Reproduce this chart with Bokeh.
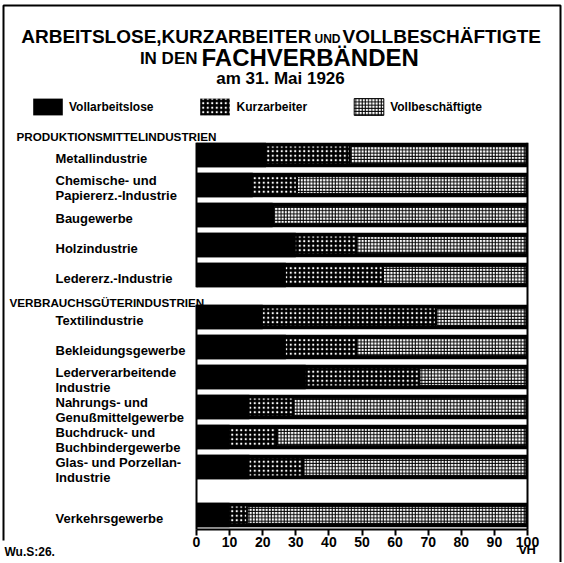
from bokeh.plotting import figure
from bokeh.models import Range1d, FixedTicker, Legend, LegendItem, ColumnDataSource
from bokeh.core.properties import value
from bokeh.embed import file_html
from bokeh.resources import INLINE

# ---------------- data ----------------
title_line1 = ["ARBEITSLOSE,KURZARBEITER", "UND", "VOLLBESCHÄFTIGTE"]
title_line2 = ["IN DEN", "FACHVERBÄNDEN"]
title_line3 = "am 31. Mai 1926"
series_names = ["Vollarbeitslose", "Kurzarbeiter", "Vollbeschäftigte"]
group_names = ["PRODUKTIONSMITTELINDUSTRIEN", "VERBRAUCHSGÜTERINDUSTRIEN"]
categories = [
    "Metallindustrie",
    "Chemische- und\nPapiererz.-Industrie",
    "Baugewerbe",
    "Holzindustrie",
    "Ledererz.-Industrie",
    "Textilindustrie",
    "Bekleidungsgewerbe",
    "Lederverarbeitende\nIndustrie",
    "Nahrungs- und\nGenußmittelgewerbe",
    "Buchdruck- und\nBuchbindergewerbe",
    "Glas- und Porzellan-\nIndustrie",
    "Verkehrsgewerbe",
]
category_group = [0, 0, 0, 0, 0, 1, 1, 1, 1, 1, 1, 2]
vollarbeitslose = [21, 17, 23, 30, 27, 20, 27, 33, 16, 10, 16, 10]
kurzarbeiter = [25, 13, 0, 18, 29, 52, 21, 34, 13, 14, 16, 5]
vollbeschaeftigte = [54, 70, 77, 52, 44, 28, 52, 33, 71, 76, 68, 85]
tick_values = [0, 10, 20, 30, 40, 50, 60, 70, 80, 90, 100]
axis_unit = "vH"
source_note = "Wu.S:26."

# ---------------- layout ----------------
FONT = "Liberation Sans"
W, H = 563, 562
BASE_PX = 530
X0_PX, X100_PX = 196, 527    # page px of 0 and 100 %
PX_PER_UNIT = (X100_PX - X0_PX) / 100.0
ROW0_PX, PITCH = 154.5, 30.0


def fx(px):
    return (px - X0_PX) / PX_PER_UNIT


def fy(py):
    return (py - ROW0_PX) / PITCH


GAPS = {1: 0.4, 2: 0.6}
slots = []
s = 0.0
for i, g in enumerate(category_group):
    if i > 0:
        s += 1.0
        if g != category_group[i - 1]:
            s += GAPS[g]
    slots.append(s)

BAR_H = 0.82
PAT_H = 0.56
INSET = 0.5

k_left = list(vollarbeitslose)
k_right = [a + k for a, k in zip(vollarbeitslose, kurzarbeiter)]
total = [a + k + v for a, k, v in zip(vollarbeitslose, kurzarbeiter, vollbeschaeftigte)]
v_left = [r + INSET for r in k_right]
v_right = [t - INSET for t in total]

src = ColumnDataSource(dict(y=slots, va=vollarbeitslose, k_left=k_left, k_right=k_right,
                            v_left=v_left, v_right=v_right, total=total, label=categories))

p = figure(width=W, height=H, output_backend="svg", toolbar_location=None, title=None,
           x_range=Range1d(fx(0), fx(W)), y_range=Range1d(fy(H), fy(0)),
           y_axis_location=None, min_border=0, outline_line_color=None,
           background_fill_color="white", border_fill_color="white")
p.grid.visible = False

# bars
p.hbar(y="y", left=0, right="total", height=BAR_H, source=src, fill_color="black", line_color=None)
r_va = p.hbar(y="y", left=0, right="va", height=BAR_H, source=src, fill_color="black", line_color=None)
r_k = p.hbar(y="y", left="k_left", right="k_right", height=PAT_H, source=src,
             fill_color="black", line_color=None, hatch_pattern="dot", hatch_color="white",
             hatch_scale=4.5, hatch_weight=1.5)
r_v = p.hbar(y="y", left="v_left", right="v_right", height=PAT_H, source=src,
             fill_color="white", line_color="black", line_width=1, hatch_pattern="cross",
             hatch_color="black", hatch_scale=3.2, hatch_weight=1)

# frame lines of the bar block
lo, hi = tick_values[0], tick_values[-1]
top1 = slots[0] - BAR_H / 2
bot1 = slots[4] + BAR_H / 2
top2 = slots[5] - BAR_H / 2
base = fy(BASE_PX - 1)
p.segment(x0=[lo, lo, hi], y0=[top1, top2, top1], x1=[lo, lo, hi], y1=[bot1, base, base],
          line_color="black", line_width=2)
p.segment(x0=[lo], y0=[base], x1=[hi], y1=[base], line_color="black", line_width=2)

# outer border
p.line(x=[fx(3), fx(3), fx(560), fx(560)], y=[fy(540), fy(5), fy(5), fy(H)],
       line_color="black", line_width=2)

# category labels
p.text(x=fx(55), y="y", text="label", source=src, text_baseline="middle", text_align="left",
       text_font=value(FONT), text_font_size="13px", text_font_style="bold",
       text_line_height=1.0, y_offset=3, text_color="black")

# group headers
p.text(x=[fx(16), fx(9)], y=[fy(136), fy(302)], text=group_names, text_baseline="middle",
       text_align="left", text_font=value(FONT), text_font_size="11.7px", text_font_style="bold",
       text_color="black")

# title
TB = dict(text_baseline="middle", text_font=value(FONT), text_font_style="bold", text_color="black")
p.text(x=[fx(311)], y=[fy(36)], text=[title_line1[0]], text_align="right", text_font_size="19px", **TB)
p.text(x=[fx(314)], y=[fy(38.5)], text=[title_line1[1]], text_align="left", text_font_size="12px", **TB)
p.text(x=[fx(342)], y=[fy(36)], text=[title_line1[2]], text_align="left", text_font_size="19px", **TB)
p.text(x=[fx(197)], y=[fy(57.5)], text=[title_line2[0]], text_align="right", text_font_size="17px", **TB)
p.text(x=[fx(201)], y=[fy(56.5)], text=[title_line2[1]], text_align="left", text_font_size="24px", **TB)
p.text(x=[fx(280)], y=[fy(77.5)], text=[title_line3], text_align="center", text_font_size="17px", **TB)

# unit and source note
p.text(x=[hi], y=[fy(549)], text=[axis_unit], text_align="center", text_baseline="middle",
       text_font=value(FONT), text_font_size="13px", text_font_style="bold", text_color="black")
p.text(x=[fx(4)], y=[fy(551)], text=[source_note], text_align="left", text_baseline="middle",
       text_font=value(FONT), text_font_size="12px", text_font_style="bold", text_color="black")

# legend (area swatches are drawn with a 10 % inset)
legend = Legend(items=[LegendItem(label=series_names[0], renderers=[r_va]),
                       LegendItem(label=series_names[1], renderers=[r_k]),
                       LegendItem(label=series_names[2], renderers=[r_v])],
                orientation="horizontal", location=(29, H - 117),
                glyph_width=37, glyph_height=21, label_height=21, label_standoff=3,
                spacing=43, padding=0, margin=0, border_line_color=None,
                background_fill_alpha=0, label_text_font=FONT, label_text_font_size="12px",
                label_text_font_style="bold", label_text_color="black",
                label_text_baseline="middle")
p.add_layout(legend)

# x axis drawn at the bar baseline
ax = p.xaxis[0]
ax.fixed_location = base
ax.ticker = FixedTicker(ticks=tick_values)
ax.axis_line_color = None
ax.major_tick_out = 6
ax.major_tick_in = 0
ax.major_tick_line_width = 2
ax.major_tick_line_color = "black"
ax.minor_tick_line_color = None
ax.major_label_standoff = 1
ax.major_label_text_font = FONT
ax.major_label_text_font_size = "14px"
ax.major_label_text_font_style = "bold"
ax.major_label_text_color = "black"

open("out.html", "w").write(file_html(p, INLINE))
